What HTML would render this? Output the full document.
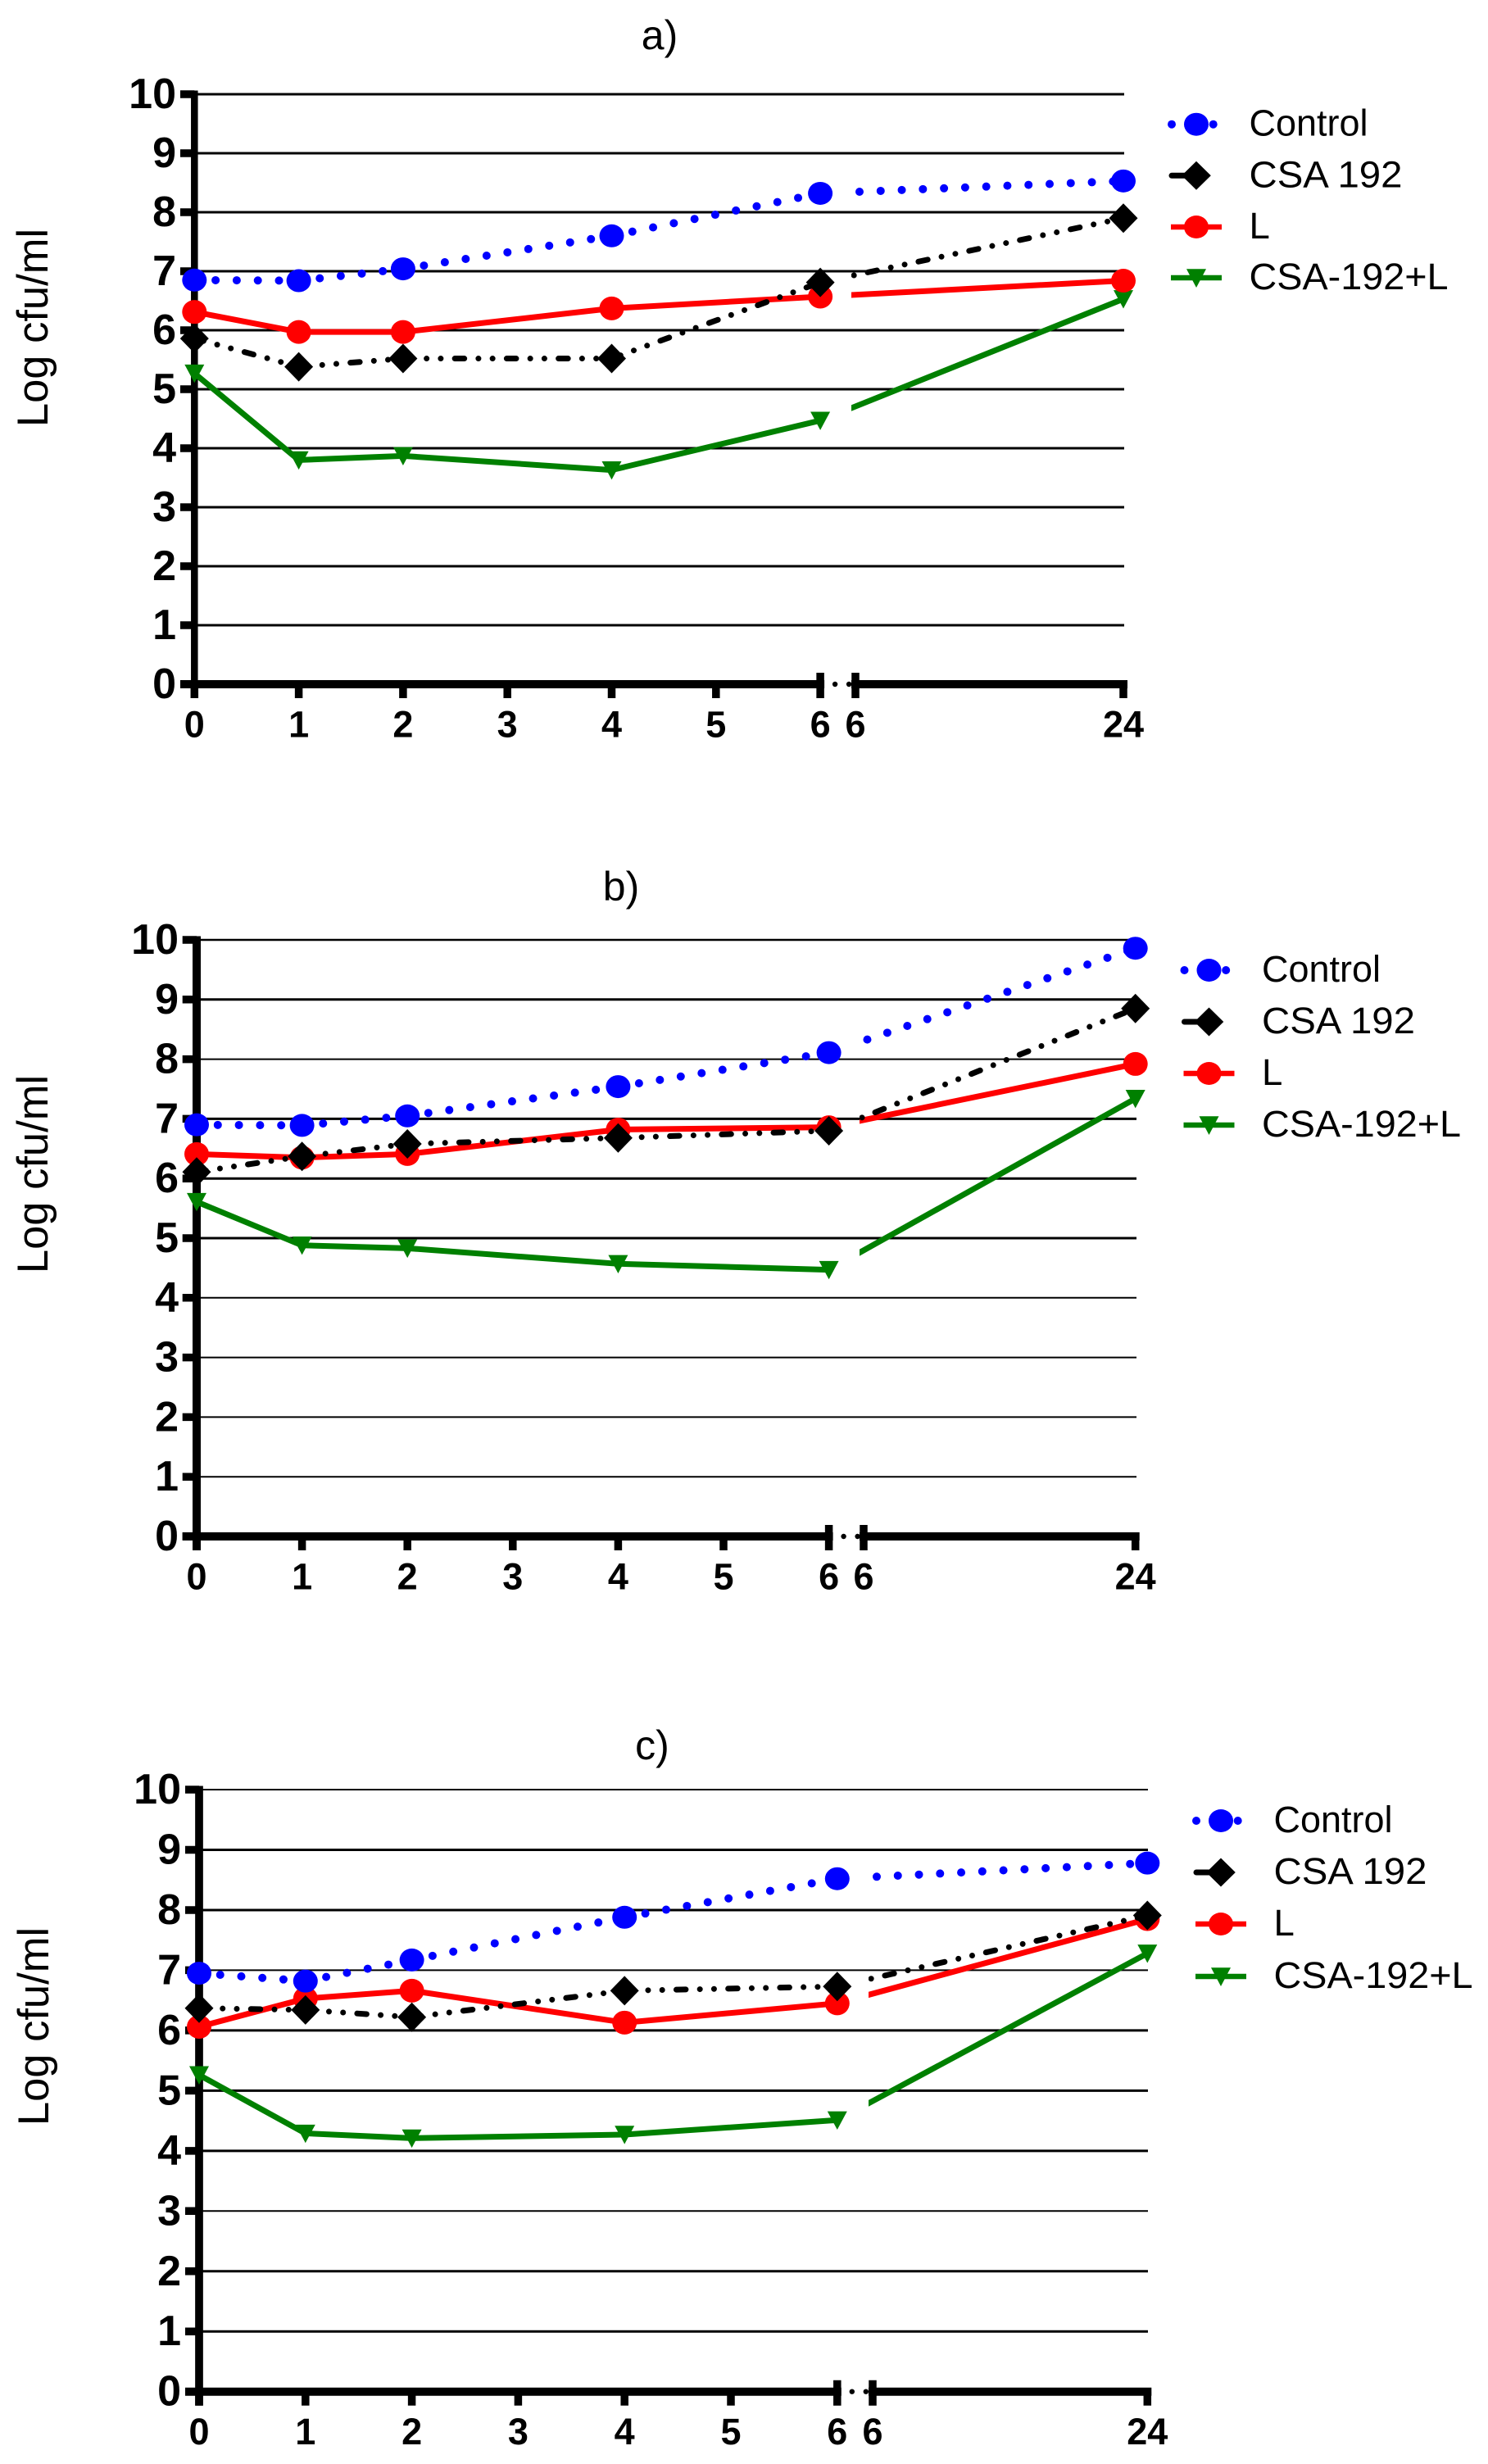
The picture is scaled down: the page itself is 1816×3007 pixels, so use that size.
<!DOCTYPE html>
<html lang="en">
<head>
<meta charset="utf-8">
<title>Log cfu/ml time-kill curves</title>
<style>
  html, body { margin: 0; padding: 0; background: #fff; }
  svg { display: block; font-family: "Liberation Sans", Arial, sans-serif; }
  .title { font-size: 50px; text-anchor: middle; }
  .ytitle { font-size: 52.5px; text-anchor: middle; }
  .legend-text { font-size: 45.5px; }
  .ylab { font-size: 52px; font-weight: bold; text-anchor: end; }
  .xlab { font-size: 45px; font-weight: bold; text-anchor: middle; }
</style>
</head>
<body>
<svg id="figure" xmlns="http://www.w3.org/2000/svg" width="1816" height="3007" viewBox="0 0 1816 3007">
  <rect x="0" y="0" width="1816" height="3007" fill="#fff"/>
  <defs>
    <g id="swatch-control">
      <circle cx="-30" cy="0" r="5" fill="#0000ff"/>
      <circle cx="20.7" cy="0" r="5" fill="#0000ff"/>
      <ellipse cx="0" cy="0" rx="15" ry="14" fill="#0000ff"/>
    </g>
    <g id="swatch-csa">
      <line x1="-30" y1="0" x2="-12" y2="0" stroke="#000" stroke-width="7" stroke-linecap="round"/>
      <polygon points="-17.8,0 0,-17.5 17.8,0 0,17.5" fill="#000"/>
    </g>
    <g id="swatch-l">
      <line x1="-31" y1="0" x2="31" y2="0" stroke="#ff0000" stroke-width="6.5"/>
      <ellipse cx="0" cy="0" rx="15" ry="14" fill="#ff0000"/>
    </g>
    <g id="swatch-combo">
      <line x1="-31" y1="0" x2="31" y2="0" stroke="#008000" stroke-width="6.5"/>
      <polygon points="-12,-10.7 12,-10.7 0,12" fill="#008000"/>
    </g>
  </defs>

  <g id="panel-a">
    <text class="title" x="805" y="60">a)</text>
    <text class="ytitle" transform="translate(58,400) rotate(-90)">Log cfu/ml</text>
    <g>
      <g transform="translate(1460,151.7)"><use href="#swatch-control"/><text class="legend-text" x="64.5" y="14" textLength="145" lengthAdjust="spacingAndGlyphs">Control</text></g>
      <g transform="translate(1460,214.3)"><use href="#swatch-csa"/><text class="legend-text" x="64.5" y="14" textLength="187" lengthAdjust="spacingAndGlyphs">CSA 192</text></g>
      <g transform="translate(1460,277)"><use href="#swatch-l"/><text class="legend-text" x="64.5" y="14">L</text></g>
      <g transform="translate(1460,339)"><use href="#swatch-combo"/><text class="legend-text" x="64.5" y="14" textLength="243" lengthAdjust="spacingAndGlyphs">CSA-192+L</text></g>
    </g>
  </g>

  <g id="panel-b">
    <text class="title" x="758" y="1099">b)</text>
    <text class="ytitle" transform="translate(58,1433) rotate(-90)">Log cfu/ml</text>
    <g>
      <g transform="translate(1475.5,1184)"><use href="#swatch-control"/><text class="legend-text" x="64.5" y="14" textLength="145" lengthAdjust="spacingAndGlyphs">Control</text></g>
      <g transform="translate(1475.5,1247)"><use href="#swatch-csa"/><text class="legend-text" x="64.5" y="14" textLength="187" lengthAdjust="spacingAndGlyphs">CSA 192</text></g>
      <g transform="translate(1475.5,1310)"><use href="#swatch-l"/><text class="legend-text" x="64.5" y="14">L</text></g>
      <g transform="translate(1475.5,1373)"><use href="#swatch-combo"/><text class="legend-text" x="64.5" y="14" textLength="243" lengthAdjust="spacingAndGlyphs">CSA-192+L</text></g>
    </g>
  </g>

  <g id="panel-c">
    <text class="title" x="796" y="2147">c)</text>
    <text class="ytitle" transform="translate(59,2473) rotate(-90)">Log cfu/ml</text>
    <g>
      <g transform="translate(1490,2222)"><use href="#swatch-control"/><text class="legend-text" x="64.5" y="14" textLength="145" lengthAdjust="spacingAndGlyphs">Control</text></g>
      <g transform="translate(1490,2285)"><use href="#swatch-csa"/><text class="legend-text" x="64.5" y="14" textLength="187" lengthAdjust="spacingAndGlyphs">CSA 192</text></g>
      <g transform="translate(1490,2348)"><use href="#swatch-l"/><text class="legend-text" x="64.5" y="14">L</text></g>
      <g transform="translate(1490,2412)"><use href="#swatch-combo"/><text class="legend-text" x="64.5" y="14" textLength="243" lengthAdjust="spacingAndGlyphs">CSA-192+L</text></g>
    </g>
  </g>
</svg>

<script>
// Chart data
const hours = [0, 1, 2, 4, 6, 24];
const xTicksBeforeBreak = [0, 1, 2, 3, 4, 5, 6];
const xTicksAfterBreak = [6, 24];
const yTicks = [0, 1, 2, 3, 4, 5, 6, 7, 8, 9, 10];

const aControl = [6.85, 6.84, 7.04, 7.60, 8.32, 8.53];
const aCsa     = [5.86, 5.38, 5.52, 5.52, 6.81, 7.90];
const aL       = [6.31, 5.97, 5.97, 6.37, 6.57, 6.84];
const aCombo   = [5.27, 3.80, 3.87, 3.63, 4.47, 6.53];

const bControl = [6.90, 6.89, 7.05, 7.54, 8.11, 9.86];
const bCsa     = [6.11, 6.37, 6.58, 6.68, 6.80, 8.85];
const bL       = [6.41, 6.35, 6.41, 6.82, 6.86, 7.92];
const bCombo   = [5.61, 4.88, 4.83, 4.57, 4.47, 7.34];

const cControl = [6.95, 6.82, 7.17, 7.88, 8.52, 8.78];
const cCsa     = [6.37, 6.34, 6.22, 6.66, 6.73, 7.91];
const cL       = [6.06, 6.53, 6.66, 6.13, 6.45, 7.85];
const cCombo   = [5.26, 4.29, 4.21, 4.27, 4.51, 7.28];

// Layout of each panel (axis calibration, not data)
const panelLayouts = [
  { id: 'a', left: 237.3, step: 127.3, xBreak: 1044, xEnd: 1371, y0: 835, y10: 115, tickLeft: 220, gridRight: 1372, axisW: 8.5, labelRight: 215,
    gridW: [0, 3, 3, 3, 3, 3, 3, 3, 3, 3, 3],
    control: aControl, csa: aCsa, l: aL, combo: aCombo },
  { id: 'b', left: 240, step: 128.6, xBreak: 1054, xEnd: 1385.7, y0: 1875, y10: 1147, tickLeft: 222.7, gridRight: 1387, axisW: 10, labelRight: 218,
    gridW: [0, 2, 2, 2, 2, 3, 3, 3, 2, 3, 2.5],
    control: bControl, csa: bCsa, l: bL, combo: bCombo },
  { id: 'c', left: 243, step: 129.8, xBreak: 1065, xEnd: 1400.3, y0: 2918.7, y10: 2184, tickLeft: 226, gridRight: 1401, axisW: 9.7, labelRight: 221,
    gridW: [0, 3, 3, 2, 3, 3, 3, 2, 3, 3, 2],
    control: cControl, csa: cCsa, l: cL, combo: cCombo }
];

const NS = 'http://www.w3.org/2000/svg';
function make(tag, attrs, parent) {
  const node = document.createElementNS(NS, tag);
  for (const key in attrs) node.setAttribute(key, attrs[key]);
  parent.appendChild(node);
  return node;
}

function drawPanel(p) {
  const root = document.getElementById('panel-' + p.id);
  const xPos = h => h <= 6 ? p.left + h * p.step : p.xBreak + (h - 6) * (p.xEnd - p.xBreak) / 18;
  const yPos = v => p.y0 - v * (p.y0 - p.y10) / 10;
  const gapX = p.xBreak - 5;

  const clip = make('clipPath', { id: 'after-break-' + p.id }, root);
  make('rect', { x: gapX, y: 0, width: 1816, height: 3007 }, clip);

  // grid lines
  yTicks.forEach(v => {
    if (v === 0) return;
    const g = make('line', { x1: p.left, x2: p.gridRight, y1: yPos(v), y2: yPos(v), stroke: '#000', 'stroke-width': p.gridW[v] }, root);
    
    
  });

  // y axis and ticks
  const yAxis = make('line', { x1: p.left, x2: p.left, y1: p.y10 - 4.5, y2: p.y0 + 17, stroke: '#000', 'stroke-width': p.axisW }, root);
  
  
  yTicks.forEach(v => {
    const t = make('line', { x1: p.tickLeft, x2: p.left, y1: yPos(v), y2: yPos(v), stroke: '#000', 'stroke-width': 9.5 }, root);
    
    
    const lab = make('text', { class: 'ylab', x: p.labelRight, y: yPos(v) + 17 }, root);
    
    
    lab.textContent = String(v);
  });

  // x axis with break
  const seg1 = make('line', { x1: p.tickLeft, x2: xPos(6) + 5, y1: p.y0, y2: p.y0, stroke: '#000', 'stroke-width': 10 }, root);
  
  
  const seg2 = make('line', { x1: p.xBreak - 5, x2: p.xEnd + 5, y1: p.y0, y2: p.y0, stroke: '#000', 'stroke-width': 10 }, root);
  
  
  [18, 35].forEach(off => {
    const d = make('circle', { cx: xPos(6) + off, cy: p.y0, r: 3.2, fill: '#000' }, root);
    
    
  });

  function xTick(x, label, isBreak) {
    const t = make('line', { x1: x, x2: x, y1: isBreak ? p.y0 - 14 : p.y0, y2: p.y0 + 17, stroke: '#000', 'stroke-width': 9.5 }, root);
    
    
    const lab = make('text', { class: 'xlab', x: x, y: p.y0 + 64.5 }, root);
    
    
    lab.textContent = label;
  }
  xTicksBeforeBreak.forEach(h => xTick(xPos(h), String(h), h === 6));
  xTicksAfterBreak.forEach(h => xTick(xPos(h === 6 ? 6.0001 : h), String(h), h === 6));

  // series lines
  function drawLine(values, color, width, dash, cap, gapOffset, seriesName) {
    for (let i = 0; i < hours.length - 1; i++) {
      const xa = xPos(hours[i]), ya = yPos(values[i]);
      const xb = xPos(hours[i + 1]), yb = yPos(values[i + 1]);
      const crossesBreak = hours[i] === 6;
      const attrs = { x1: xa, y1: ya, x2: xb, y2: yb, stroke: color, 'stroke-width': width };
      if (cap) attrs['stroke-linecap'] = cap;
      if (dash) attrs['stroke-dasharray'] = dash;
      if (crossesBreak) {
        if (dash) {
          attrs.x1 = gapX;
          attrs.y1 = ya + (yb - ya) * (gapX - xa) / (xb - xa);
          attrs['stroke-dashoffset'] = gapOffset;
        }
        attrs['clip-path'] = 'url(#after-break-' + p.id + ')';
      }
      const s = make('line', attrs, root);
      
      
    }
  }

  // green first, then red, black, blue on top
  drawLine(p.combo, '#008000', 7, null, null, 0, 'csa-192-l');
  p.combo.forEach((v, i) => {
    const cx = xPos(hours[i]), cy = yPos(v);
    const m = make('polygon', { points: (cx - 12) + ',' + (cy - 10.7) + ' ' + (cx + 12) + ',' + (cy - 10.7) + ' ' + cx + ',' + (cy + 11.7), fill: '#008000' }, root);
    
    
  });

  drawLine(p.l, '#ff0000', 7, null, null, 0, 'l');
  p.l.forEach((v, i) => {
    const m = make('ellipse', { cx: xPos(hours[i]), cy: yPos(v), rx: 15, ry: 14.5, fill: '#ff0000' }, root);
    
    
  });

  drawLine(p.csa, '#000', 7, '11.5 17.25 0 17.25 0 17.25', 'round', 42.75, 'csa-192');
  p.csa.forEach((v, i) => {
    const cx = xPos(hours[i]), cy = yPos(v);
    const m = make('polygon', { points: (cx - 17.5) + ',' + cy + ' ' + cx + ',' + (cy - 18) + ' ' + (cx + 17.5) + ',' + cy + ' ' + cx + ',' + (cy + 18), fill: '#000' }, root);
    
    
  });

  drawLine(p.control, '#0000ff', 10, '0 25.8', 'round', 15.8, 'control');
  p.control.forEach((v, i) => {
    const m = make('ellipse', { cx: xPos(hours[i]), cy: yPos(v), rx: 15, ry: 14, fill: '#0000ff' }, root);
    
    
  });
}

panelLayouts.forEach(drawPanel);
</script>
</body>
</html>
